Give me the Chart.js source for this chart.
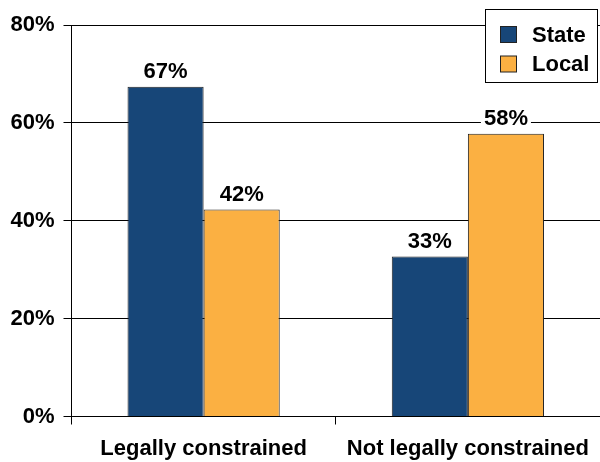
<!DOCTYPE html>
<html>
<head>
<meta charset="utf-8">
<script src="https://cdn.jsdelivr.net/npm/chart.js@4/dist/chart.umd.min.js"></script>
<style>
	html,body{margin:0;padding:0;background:#fff;}
	#wrap{width:600px;height:462px;position:relative;}
</style>
</head>
<body>
<div id="wrap"><canvas id="chart"></canvas></div>
<script>
// Chart data
const categories = ['Legally constrained', 'Not legally constrained'];
const seriesNames = ['State', 'Local'];
const stateValues = [67.4, 32.7];
const localValues = [42.3, 57.8];
const valueLabels = [['67%', '33%'], ['42%', '58%']];
const yTicks = [0, 20, 40, 60, 80];

const FONT = '"Liberation Sans", Arial, sans-serif';
const colors = ['#174678', '#FBB042'];

// bar value labels with white knock-out box
const valueLabelPlugin = {
	id: 'valueLabels',
	afterDatasetsDraw(chart){
		const ctx = chart.ctx;
		ctx.save();
		ctx.font = 'bold 22px ' + FONT;
		ctx.textAlign = 'center';
		ctx.textBaseline = 'alphabetic';
		chart.data.datasets.forEach((ds, di)=>{
			const meta = chart.getDatasetMeta(di);
			meta.data.forEach((bar, i)=>{
				const txt = valueLabels[di][i];
				const w = ctx.measureText(txt).width;
				const y = bar.y - 8.5;
				ctx.fillStyle = '#fff';
				ctx.fillRect(bar.x - w/2 - 3, y - 17, w + 6, 21);
				ctx.fillStyle = '#000';
				ctx.fillText(txt, bar.x, y);
			});
		});
		ctx.restore();
	}
};

// boxed legend in the top right corner of the plot
const boxLegendPlugin = {
	id: 'boxLegend',
	afterDraw(chart){
		const ctx = chart.ctx;
		const left = 485.5, top = 9.5, w = 112, h = 73;
		ctx.save();
		ctx.fillStyle = '#fff';
		ctx.fillRect(left, top, w, h);
		ctx.strokeStyle = '#000';
		ctx.lineWidth = 1;
		ctx.strokeRect(left, top, w, h);
		ctx.font = 'bold 22px ' + FONT;
		ctx.textBaseline = 'alphabetic';
		ctx.textAlign = 'left';
		chart.data.datasets.forEach((ds, i)=>{
			const sy = 26.5 + i*29.5;
			ctx.fillStyle = ds.backgroundColor;
			ctx.fillRect(500.5, sy, 16, 16);
			ctx.strokeStyle = '#222';
			ctx.strokeRect(500.5, sy, 16, 16);
			ctx.fillStyle = '#000';
			ctx.fillText(ds.label, 532, 41.7 + i*29);
		});
		ctx.restore();
	}
};

new Chart(document.getElementById('chart'), {
	type: 'bar',
	data: {
		labels: categories,
		datasets: [
			{ label: seriesNames[0], data: stateValues, backgroundColor: colors[0], borderColor: '#222', borderWidth: 1, borderSkipped: 'bottom' },
			{ label: seriesNames[1], data: localValues, backgroundColor: colors[1], borderColor: '#222', borderWidth: 1, borderSkipped: 'bottom' }
		]
	},
	options: {
		responsive: true,
		maintainAspectRatio: false,
		animation: false,
		events: [],
		layout: { padding: { top: 25, right: 0, left: 0, bottom: 0 } },
		datasets: { bar: { categoryPercentage: 0.576, barPercentage: 1.0 } },
		plugins: { legend: { display: false }, tooltip: { enabled: false } },
		scales: {
			x: {
				grid: { display: true, drawOnChartArea: false, drawTicks: true, tickLength: 8, color: '#000', offset: true },
				border: { display: true, color: '#000', width: 1 },
				ticks: { color: '#000', font: { family: FONT, size: 22, weight: 'bold' }, padding: 11, maxRotation: 0 },
				afterFit(scale){ scale.height = 45.5; }
			},
			y: {
				min: 0, max: 80,
				afterBuildTicks(scale){ scale.ticks = yTicks.map(v=>({ value: v })); },
				grid: { color: '#000', lineWidth: 1, drawTicks: true, tickLength: 8 },
				border: { display: true, color: '#000', width: 1 },
				ticks: { color: '#000', font: { family: FONT, size: 22, weight: 'bold' }, padding: 9, callback: v => v + '%' },
				afterFit(scale){ scale.width = 71.5; }
			}
		}
	},
	plugins: [valueLabelPlugin, boxLegendPlugin]
});
</script>
</body>
</html>
